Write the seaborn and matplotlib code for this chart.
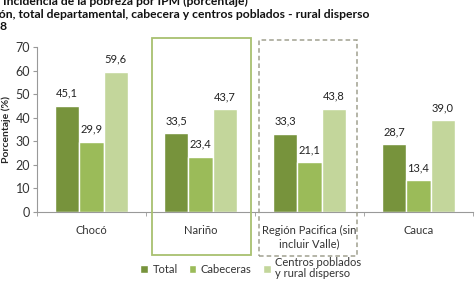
import numpy as np
import pandas as pd
import matplotlib
matplotlib.use("Agg")
import matplotlib.pyplot as plt
from matplotlib.patches import Rectangle
import seaborn as sns

categorias = ["Chocó", "Nariño", "Región Pacifica (sin\nincluir Valle)", "Cauca"]
series = ["Total", "Cabeceras", "Centros poblados\ny rural disperso"]
total = [45.1, 33.5, 33.3, 28.7]
cabeceras = [29.9, 23.4, 21.1, 13.4]
centros = [59.6, 43.7, 43.8, 39.0]
colores = ["#77933C", "#9BBB59", "#C3D69B"]

df = pd.DataFrame({
    "categoria": categorias * 3,
    "serie": [series[0]] * 4 + [series[1]] * 4 + [series[2]] * 4,
    "valor": total + cabeceras + centros,
})

sns.set_style("white")
plt.rcParams["font.family"] = ["Lato", "DejaVu Sans"]

fig = plt.figure(figsize=(4.77, 2.83), dpi=100)
ax = fig.add_axes([37 / 477, 71 / 283, 436 / 477, 165 / 283])

sns.barplot(data=df, x="categoria", y="valor", hue="serie", palette=colores,
            width=0.67, gap=0, saturation=1, ax=ax, legend=True)

for cont in ax.containers:
    ax.bar_label(cont, labels=[f"{v:.1f}".replace(".", ",") for v in cont.datavalues],
                 padding=5, fontsize=8, color="#222222")

ax.set_ylim(0, 70)
ax.set_xlim(-0.5, 3.5)
ax.set_yticks(range(0, 71, 10))
ax.set_xlabel("")
ax.set_ylabel("Porcentaje (%)", fontsize=7.5, fontweight="bold")
ax.yaxis.set_label_coords(-0.06, 0.5)
for s in ["top", "right"]:
    ax.spines[s].set_visible(False)
for s in ["left", "bottom"]:
    ax.spines[s].set_color("#999999")
    ax.spines[s].set_linewidth(0.8)
ax.tick_params(axis="y", left=True, length=3, color="#999999", labelsize=9,
               labelcolor="#333333", pad=2)
ax.tick_params(axis="x", bottom=False, labelsize=8, labelcolor="#333333", pad=6)
ax.set_xticks(np.arange(-0.5, 4, 1), minor=True)
ax.tick_params(axis="x", which="minor", bottom=True, length=3, color="#999999")

leg = ax.legend(loc="upper center", bbox_to_anchor=(0.49, -0.245), ncol=3, frameon=False,
                fontsize=8, handlelength=0.7, handleheight=0.7, handletextpad=0.4,
                columnspacing=1.0, borderaxespad=0, labelspacing=0.1)
for t in leg.get_texts():
    t.set_color("#333333")
    t.set_linespacing(1.05)

# recuadros
fig.patches.append(Rectangle((152 / 477, 1 - 255 / 283), 99 / 477, 217 / 283,
                             transform=fig.transFigure, fill=False,
                             edgecolor="#A8C070", linewidth=1.3))
fig.patches.append(Rectangle((259 / 477, 1 - 256 / 283), 98 / 477, 216 / 283,
                             transform=fig.transFigure, fill=False,
                             edgecolor="#A0A090", linewidth=1.1, linestyle=(0, (3, 2))))

# texto del título recortado
fig.text(248 / 477, 1 - 1 / 283, "Incidencia de la pobreza por IPM (porcentaje)", fontsize=8.7,
         fontweight="bold", va="center", ha="right", color="#111111")
fig.text(370 / 477, 1 - 14 / 283,
         "Región, total departamental, cabecera y centros poblados - rural disperso",
         fontsize=8.7, fontweight="bold", va="center", ha="right", color="#111111")
fig.text(8 / 477, 1 - 27 / 283, "2018", fontsize=8.7, fontweight="bold", va="center",
         ha="right", color="#111111")

fig.savefig("out.png", dpi=100)
